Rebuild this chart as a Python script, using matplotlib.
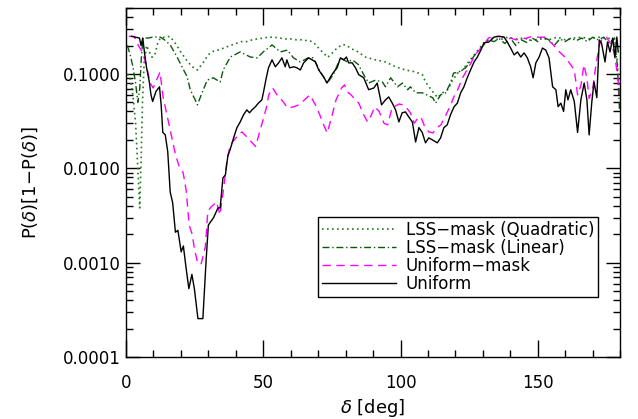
"""
P(delta)[1-P(delta)] versus delta for the uniform and LSS-mask cases.
"""
import matplotlib
matplotlib.use("Agg")
import matplotlib.pyplot as plt
from matplotlib.ticker import FixedLocator, MultipleLocator, FuncFormatter

# ===== Data =====
uniform_deg = [2.0, 4.9, 5.5, 6.1, 6.7, 7.5, 8.5, 9.1, 9.7, 10.9,
               12.2, 12.8, 13.4, 14.3, 15.2, 16.1, 17.0, 18.0, 18.9, 20.1,
               20.9, 21.9, 22.9, 24.0, 24.9, 26.2, 28.0, 29.2, 30.0, 31.9,
               33.5, 34.3, 35.3, 36.2, 37.1, 38.0, 39.2, 40.4, 41.6, 42.8,
               44.0, 45.0, 45.9, 47.1, 48.3, 49.5, 50.1, 51.1, 51.9, 53.2,
               54.4, 55.6, 56.8, 58.0, 58.6, 59.6, 61.1, 62.3, 63.5, 64.7,
               66.5, 67.8, 69.0, 70.2, 72.0, 73.2, 74.5, 75.7, 76.9, 78.1,
               79.3, 80.3, 81.1, 82.4, 83.6, 84.8, 86.6, 88.4, 90.3, 91.5,
               93.1, 94.5, 95.7, 97.0, 98.2, 99.4, 100.6, 101.8, 103.0, 104.3,
               105.5, 106.7, 107.9, 109.1, 110.3, 111.6, 113.4, 114.6, 115.8, 117.0,
               118.2, 119.5, 120.7, 121.9, 123.1, 124.3, 125.5, 126.8, 128.0, 129.5,
               130.4, 132.2, 134.1, 135.9, 137.7, 138.9, 140.1, 141.4, 142.6, 143.8,
               145.0, 146.2, 147.4, 148.3, 149.3, 150.5, 151.7, 152.9, 154.1, 155.4,
               156.6, 157.4, 158.4, 159.4, 160.2, 161.0, 162.0, 163.3, 164.5, 165.7,
               166.9, 167.9, 168.7, 169.7, 170.5, 171.5, 172.4, 173.2, 174.5, 175.4,
               176.3, 177.3, 178.1, 178.8, 179.3]
uniform_val = [0.25, 0.24, 0.20, 0.24, 0.171, 0.116, 0.082, 0.060, 0.051, 0.065,
               0.073, 0.047, 0.024, 0.0226, 0.015, 0.0056, 0.0043, 0.0021, 0.0022, 0.0013,
               0.0015, 0.00087, 0.00053, 0.00075, 0.00053, 0.000255, 0.000255, 0.00108, 0.0025, 0.0030,
               0.0038, 0.0038, 0.0079, 0.0085, 0.0135, 0.016, 0.021, 0.0269, 0.031, 0.0368,
               0.0416, 0.0387, 0.0416, 0.0448, 0.0493, 0.0531, 0.0645, 0.091, 0.116, 0.141,
               0.119, 0.131, 0.148, 0.119, 0.141, 0.116, 0.119, 0.116, 0.110, 0.131,
               0.148, 0.141, 0.134, 0.110, 0.093, 0.080, 0.093, 0.105, 0.116, 0.148,
               0.141, 0.151, 0.131, 0.131, 0.116, 0.098, 0.091, 0.068, 0.071, 0.080,
               0.047, 0.053, 0.057, 0.049, 0.0416, 0.031, 0.0387, 0.0396, 0.035, 0.031,
               0.019, 0.027, 0.024, 0.0186, 0.021, 0.020, 0.0186, 0.021, 0.027, 0.0288,
               0.0368, 0.0448, 0.049, 0.063, 0.073, 0.091, 0.110, 0.134, 0.151, 0.185,
               0.213, 0.218, 0.246, 0.25, 0.246, 0.218, 0.188, 0.159, 0.171, 0.151,
               0.167, 0.148, 0.119, 0.091, 0.131, 0.151, 0.188, 0.179, 0.148, 0.073,
               0.068, 0.045, 0.049, 0.040, 0.068, 0.053, 0.068, 0.051, 0.024, 0.053,
               0.080, 0.053, 0.0226, 0.051, 0.082, 0.056, 0.229, 0.213, 0.134, 0.218,
               0.171, 0.24, 0.148, 0.246, 0.171]

umask_deg = [1.0, 3.0, 4.5, 6.0, 7.5, 8.8, 9.9, 12.4, 13.5, 15.7,
             18.0, 19.4, 20.8, 21.9, 23.0, 24.1, 25.0, 25.9, 27.3, 28.9,
             29.8, 31.0, 33.0, 34.2, 35.5, 36.8, 38.0, 40.0, 42.2, 44.0,
             46.0, 47.2, 49.4, 51.1, 52.0, 53.4, 55.0, 57.2, 58.8, 61.0,
             63.0, 65.0, 67.0, 69.0, 70.6, 72.0, 73.3, 74.8, 76.5, 78.5,
             79.6, 80.6, 82.0, 83.6, 84.8, 86.6, 88.0, 89.4, 90.6, 92.2,
             94.0, 95.3, 96.9, 99.5, 100.8, 101.9, 103.6, 105.0, 106.3, 107.4,
             108.7, 110.3, 111.8, 113.2, 114.7, 116.2, 118.3, 119.4, 120.8, 122.6,
             124.2, 125.7, 127.1, 130.3, 132.0, 134.0, 136.0, 138.0, 140.0, 142.0,
             144.0, 146.0, 148.0, 150.0, 152.6, 154.0, 155.5, 158.0, 160.0, 162.0,
             163.3, 164.5, 165.7, 166.8, 167.9, 168.7, 170.0, 171.2, 172.4, 173.5,
             175.0, 176.5, 177.8, 179.0, 179.8]
umask_val = [0.25, 0.25, 0.20, 0.17, 0.12, 0.08, 0.071, 0.105, 0.057, 0.0288,
             0.014, 0.0104, 0.009, 0.0059, 0.0025, 0.0020, 0.00137, 0.00105, 0.00095, 0.00148,
             0.0035, 0.0039, 0.0044, 0.0032, 0.0059, 0.0123, 0.0177, 0.021, 0.0243, 0.0215,
             0.0186, 0.017, 0.0288, 0.0436, 0.060, 0.071, 0.060, 0.051, 0.0436, 0.0448,
             0.047, 0.053, 0.060, 0.047, 0.0368, 0.0288, 0.0237, 0.034, 0.053, 0.071,
             0.0765, 0.0645, 0.060, 0.053, 0.049, 0.0368, 0.031, 0.0368, 0.0448, 0.040,
             0.030, 0.0288, 0.0436, 0.048, 0.047, 0.0448, 0.0387, 0.030, 0.034, 0.035,
             0.0282, 0.0243, 0.0237, 0.0269, 0.0288, 0.035, 0.047, 0.057, 0.068, 0.091,
             0.110, 0.131, 0.159, 0.203, 0.24, 0.25, 0.25, 0.245, 0.24, 0.23,
             0.235, 0.24, 0.25, 0.245, 0.245, 0.225, 0.205, 0.17, 0.15, 0.125,
             0.11, 0.06, 0.075, 0.125, 0.09, 0.055, 0.07, 0.125, 0.20, 0.24,
             0.245, 0.21, 0.17, 0.10, 0.06]

quad_deg = [0.5, 1.5, 2.5, 3.5, 4.3, 5.0, 5.5, 6.0, 6.6, 7.5,
            8.5, 9.5, 10.5, 11.5, 12.5, 14.0, 16.0, 18.0, 20.0, 22.0,
            24.0, 26.0, 28.0, 30.0, 32.0, 34.0, 36.0, 38.0, 40.0, 42.0,
            44.0, 46.0, 48.0, 50.0, 52.0, 54.0, 56.0, 58.0, 60.0, 62.0,
            64.0, 66.0, 68.0, 70.0, 72.0, 73.5, 75.0, 77.0, 79.0, 80.5,
            82.0, 84.0, 87.2, 90.9, 94.5, 98.2, 101.8, 105.5, 108.0, 109.1,
            111.7, 113.5, 115.3, 117.2, 119.0, 120.8, 122.6, 124.8, 127.4, 130.3,
            133.0, 136.0, 139.0, 142.0, 145.0, 148.0, 151.0, 154.0, 157.0, 160.0,
            163.0, 166.0, 169.0, 172.0, 175.0, 177.5, 178.8, 179.8]
quad_val = [0.10, 0.09, 0.06, 0.03, 0.01, 0.0038, 0.012, 0.05, 0.13, 0.20,
            0.17, 0.15, 0.16, 0.21, 0.24, 0.245, 0.25, 0.21, 0.17, 0.14,
            0.12, 0.11, 0.13, 0.16, 0.175, 0.18, 0.19, 0.20, 0.21, 0.22,
            0.22, 0.23, 0.235, 0.24, 0.245, 0.245, 0.24, 0.235, 0.235, 0.23,
            0.23, 0.225, 0.22, 0.19, 0.165, 0.15, 0.165, 0.19, 0.205, 0.20,
            0.185, 0.175, 0.151, 0.141, 0.134, 0.119, 0.110, 0.105, 0.098, 0.082,
            0.065, 0.056, 0.063, 0.068, 0.086, 0.102, 0.110, 0.134, 0.167, 0.213,
            0.24, 0.23, 0.245, 0.235, 0.24, 0.225, 0.24, 0.23, 0.245, 0.23,
            0.24, 0.245, 0.235, 0.245, 0.24, 0.235, 0.15, 0.06]

lin_deg = [0.5, 1.5, 2.5, 3.5, 4.3, 5.0, 5.6, 6.2, 8.0, 10.0,
           12.4, 14.0, 16.1, 18.6, 20.4, 22.3, 23.4, 25.2, 26.0, 27.7,
           29.6, 31.8, 34.3, 35.4, 38.0, 41.6, 45.3, 47.8, 50.0, 53.2,
           56.2, 58.8, 61.0, 63.5, 66.4, 68.2, 70.8, 73.3, 75.5, 78.1,
           80.6, 82.5, 84.7, 86.6, 88.4, 90.9, 93.4, 94.5, 96.4, 98.9,
           100.7, 102.6, 103.6, 105.5, 108.0, 111.7, 112.8, 114.6, 116.4, 118.2,
           119.3, 121.2, 123.7, 126.3, 128.5, 130.3, 132.0, 134.0, 136.0, 138.0,
           140.0, 142.0, 144.0, 146.0, 148.0, 150.0, 152.0, 154.0, 156.0, 158.0,
           160.0, 162.0, 164.0, 166.0, 168.0, 170.0, 172.0, 174.0, 176.0, 178.0,
           179.0, 179.8]
lin_val = [0.20, 0.16, 0.12, 0.08, 0.05, 0.07, 0.15, 0.24, 0.24, 0.246,
           0.246, 0.23, 0.203, 0.151, 0.119, 0.093, 0.068, 0.053, 0.047, 0.063,
           0.086, 0.091, 0.082, 0.110, 0.151, 0.171, 0.151, 0.148, 0.171, 0.203,
           0.171, 0.179, 0.148, 0.134, 0.148, 0.148, 0.105, 0.080, 0.098, 0.148,
           0.134, 0.141, 0.125, 0.098, 0.080, 0.086, 0.082, 0.073, 0.091, 0.073,
           0.080, 0.068, 0.073, 0.063, 0.063, 0.056, 0.049, 0.060, 0.063, 0.080,
           0.102, 0.105, 0.116, 0.148, 0.179, 0.203, 0.23, 0.22, 0.235, 0.21,
           0.24, 0.20, 0.23, 0.215, 0.24, 0.22, 0.245, 0.23, 0.20, 0.235,
           0.22, 0.24, 0.225, 0.24, 0.22, 0.245, 0.23, 0.245, 0.21, 0.24,
           0.12, 0.04]

labels = ["LSS\u2212mask (Quadratic)", "LSS\u2212mask (Linear)",
          "Uniform\u2212mask", "Uniform"]
ytick_vals = [1e-4, 1e-3, 1e-2, 1e-1]

# ===== Figure =====
plt.rcParams['font.family'] = 'DejaVu Sans'
plt.rcParams['mathtext.fontset'] = 'dejavusans'

fig = plt.figure(figsize=(6.38, 4.19), dpi=100)
ax = fig.add_axes([0.1975, 0.148, 0.7745, 0.833])

ax.plot(quad_deg, quad_val, color='#1e7d1e', linewidth=1.2,
        dashes=(1, 2), label=labels[0])
ax.plot(lin_deg, lin_val, color='#0b5a0b', linewidth=1.0,
        dashes=(5, 2, 1, 2), label=labels[1])
ax.plot(umask_deg, umask_val, color='#ff00ff', linewidth=1.0,
        dashes=(6, 4), label=labels[2])
ax.plot(uniform_deg, uniform_val, color='black', linewidth=1.0,
        label=labels[3])

ax.set_yscale('log')
ax.set_xlim(0, 180)
ax.set_ylim(1e-4, 0.5)

# Ticks: inward, on all four sides
ax.xaxis.set_major_locator(MultipleLocator(50))
ax.xaxis.set_minor_locator(MultipleLocator(10))
ax.yaxis.set_major_locator(FixedLocator(ytick_vals))
ax.yaxis.set_minor_locator(FixedLocator(
    [m * 10.0 ** e for e in range(-4, 0) for m in range(2, 10)]))
ax.yaxis.set_major_formatter(FuncFormatter(lambda v, p: '%.4f' % v))
ax.yaxis.set_minor_formatter(FuncFormatter(lambda v, p: ''))
ax.tick_params(which='both', direction='in', top=True, right=True,
               width=1.0, labelsize=12, colors='black')
ax.tick_params(axis='x', which='major', length=12, pad=12)
ax.tick_params(axis='x', which='minor', length=5)
ax.tick_params(axis='y', which='major', length=10, pad=4)
ax.tick_params(axis='y', which='minor', length=5)
for sp in ax.spines.values():
    sp.set_linewidth(1.0)

ax.set_xlabel(r'$\delta$ [deg]', fontsize=13, labelpad=4)
ax.set_ylabel(r'P($\delta$)[1$-$P($\delta$)]', fontsize=13, labelpad=16)

leg = ax.legend(loc='upper left', bbox_to_anchor=(0.389, 0.401),
                fontsize=12, handlelength=4.4, handletextpad=0.6,
                labelspacing=0.0, borderpad=0.25, fancybox=False,
                framealpha=1, edgecolor='black', borderaxespad=0)
leg.get_frame().set_linewidth(1.0)

fig.savefig('out.png', dpi=100)
